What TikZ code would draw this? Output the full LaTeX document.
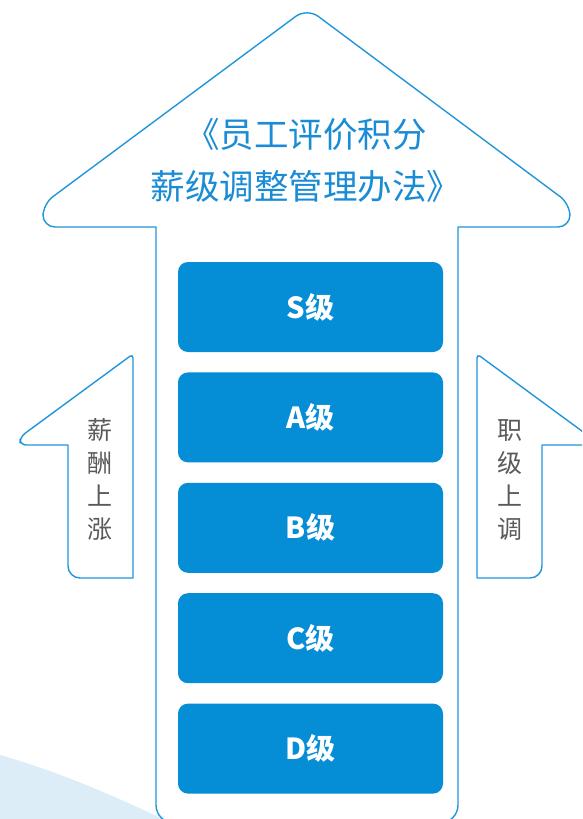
\documentclass[tikz,border=0pt]{standalone}
\usepackage{fontspec}
\newfontfamily\cjk{Noto Sans CJK SC}
\usetikzlibrary{positioning}
\definecolor{lineblue}{HTML}{2196DA}
\definecolor{titleblue}{HTML}{1A8CD5}
\definecolor{boxblue}{HTML}{058DD6}
\definecolor{labelgray}{HTML}{5A5A5A}
\definecolor{swooshbg}{HTML}{DCEDF8}

\begin{document}
\begin{tikzpicture}[
  x=1pt, y=-1pt,
  font=\cjk,
  outlinearrow/.style={
    draw=lineblue,
    fill=white,
    line width=1.4pt,
    line join=round
  },
  gradebox/.style={
    fill=boxblue,
    rounded corners=10pt,
    minimum width=265pt,
    minimum height=90pt,
    text=white,
    font=\cjk\bfseries\fontsize{29}{32}\selectfont
  },
  sidelabel/.style={
    align=center,
    text=labelgray,
    font=\cjk\fontsize{25}{33}\selectfont
  }
]

  \path[clip] (0,0) rectangle (582,819);

  % Light swoosh, bottom left
  \fill[swooshbg] (0,755) .. controls (60,772) and (120,798) .. (175,825) -- (0,825) -- cycle;

  % Big upward arrow
  \draw[outlinearrow]
    (300,823) [rounded corners=18pt] -- (156,823) [sharp corners] -- (156,227)
    [rounded corners=12pt] -- (43,227) -- (43,204) [rounded corners=14pt] -- (307,8)
    [rounded corners=12pt] -- (570,204) -- (570,227) [sharp corners] -- (458,227)
    [rounded corners=18pt] -- (458,823) -- cycle;

  % Side half-arrows
  \draw[outlinearrow]
    (100,578) [sharp corners] -- (133,578) [rounded corners=4pt] -- (133,354)
    [rounded corners=6pt] -- (20,437) -- (20,445) [sharp corners] -- (68,445)
    [rounded corners=12pt] -- (68,578) -- cycle;
  \draw[outlinearrow]
    (510,578) [sharp corners] -- (477,578) [rounded corners=4pt] -- (477,354)
    [rounded corners=6pt] -- (590,437) -- (590,445) [sharp corners] -- (542,445)
    [rounded corners=12pt] -- (542,578) -- cycle;

  % Title
  \node[align=center, text=titleblue, font=\cjk\fontsize{34.5}{52}\selectfont] (title) at (306,160)
    {《员工评价积分\\薪级调整管理办法》};

  % Grade boxes
  \node[gradebox] (gs) at (310.5,307) {S级};
  \node[gradebox, below=20pt of gs] (ga) {A级};
  \node[gradebox, below=20pt of ga] (gb) {B级};
  \node[gradebox, below=20pt of gb] (gc) {C级};
  \node[gradebox, below=20pt of gc] (gd) {D级};

  % Side labels
  \node[sidelabel] (pay) at (100,480) {薪\\酬\\上\\涨};
  \node[sidelabel] (rank) at (510,480) {职\\级\\上\\调};

\end{tikzpicture}
\end{document}
